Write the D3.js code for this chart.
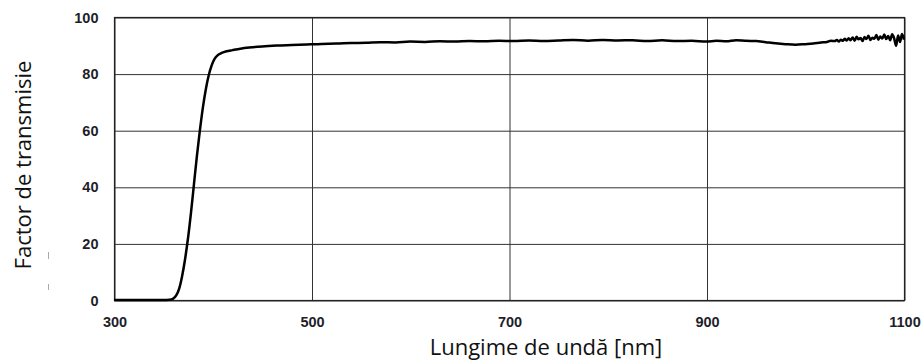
<!DOCTYPE html>
<html>
<head>
<meta charset="utf-8">
<script src="https://cdn.jsdelivr.net/npm/d3@7"></script>
<style>
    body { margin: 0; background: #fff; }
    svg { display: block; }
    .tick text { font-family: "Liberation Sans", Arial, sans-serif; font-weight: bold; font-size: 14.5px; fill: #1e1e2a; }
    .axisTitle { font-family: "Open Sans", sans-serif; font-size: 22px; fill: #111; }
</style>
</head>
<body>
<svg id="plot" width="921" height="362"></svg>
<script>
// wavelength (nm) and transmission factor (%)
var wavelength = [300, 350, 356, 360, 363, 366, 369, 372, 375, 378, 381, 384, 387, 390, 393, 396, 399, 402, 405, 409, 414, 420, 428, 437, 450, 465, 480, 495,
    510, 525, 540, 555, 570, 585, 600, 615, 630, 645, 660, 675, 690, 705, 720, 735, 750, 765, 780, 795, 810, 825, 840, 855, 870, 885, 900,
    910, 920, 930, 940, 950, 960, 970, 980, 990, 1000, 1008, 1016, 1022, 1026,
    1030, 1032, 1034, 1036, 1038, 1040, 1042, 1044, 1046, 1048, 1050, 1052, 1054, 1056, 1058, 1060, 1062, 1064, 1066, 1068,
    1070, 1072, 1074, 1076, 1078, 1080, 1082, 1084, 1086, 1088, 1090, 1092, 1094, 1096, 1098, 1100];
var transmission = [0, 0, 0.1, 0.5, 1.6, 4, 8.5, 14.5, 22, 31, 41, 51, 60, 68, 74.5, 79.5, 83, 85.3, 86.5, 87.3, 87.9, 88.3, 88.8, 89.2, 89.6, 89.9, 90.1, 90.3,
    90.5, 90.6, 90.8, 90.9, 91.1, 91.0, 91.3, 91.2, 91.4, 91.3, 91.5, 91.4, 91.6, 91.5, 91.7, 91.5, 91.7, 91.9, 91.6, 91.9, 91.7, 91.8, 91.5, 91.8, 91.5, 91.6, 91.3,
    91.6, 91.4, 91.8, 91.6, 91.5, 91.1, 90.7, 90.4, 90.2, 90.4, 90.6, 91.0, 91.2, 91.6,
    91.5, 91.9, 91.3, 92.0, 91.6, 92.3, 91.7, 92.5, 91.8, 92.8, 91.6, 93.0, 92.1, 92.6, 91.5, 92.9, 92.2, 93.4, 91.9, 92.7,
    92.3, 93.6, 92.0, 93.1, 92.4, 93.8, 92.2, 93.3, 91.8, 93.9, 92.5, 89.8, 93.5, 91.2, 94.0, 92.0];

var xTicks = [300, 500, 700, 900, 1100];
var yTicks = [0, 20, 40, 60, 80, 100];

const plot = d3.select("svg#plot");
const plotLeft = 114, plotRight = 904, plotTop = 17, plotBottom = 300;

let xScale = d3.scaleLinear()
                .domain([300, 1100])
                .range([plotLeft, plotRight]);

let yScale = d3.scaleLinear()
                .domain([0, 100])
                .range([plotBottom, plotTop]);

// gridlines + tick labels
let xAxis = d3.axisBottom(xScale)
                .tickValues(xTicks)
                .tickSize(-(plotBottom - plotTop))
                .tickPadding(16)
                .tickFormat(d3.format("d"));
plot.append("g")
    .attr("transform", "translate(0.5, " + (plotBottom + 0.5) + ")")
    .call(xAxis)
    .call(g => g.select(".domain").remove())
    .call(g => g.selectAll("line").attr("stroke", "#333"));

let yAxis = d3.axisLeft(yScale)
                .tickValues(yTicks)
                .tickSize(-(plotRight - plotLeft))
                .tickPadding(16);
plot.append("g")
    .attr("transform", "translate(" + (plotLeft + 0.5) + ", 0.5)")
    .call(yAxis)
    .call(g => g.select(".domain").remove())
    .call(g => g.selectAll("line").attr("stroke", "#333"));

// border
plot.append("rect")
    .attr("x", plotLeft + 0.5)
    .attr("y", plotTop + 0.5)
    .attr("width", plotRight - plotLeft)
    .attr("height", plotBottom - plotTop)
    .attr("fill", "none")
    .attr("stroke", "#222")
    .attr("stroke-width", 1.2);

// curve
let points = wavelength.map((w, i) => [w, transmission[i]]);
let line = d3.line()
                .x(d => xScale(d[0]))
                .y(d => yScale(d[1]))
                .curve(d3.curveMonotoneX);
plot.append("path")
    .datum(points)
    .attr("d", line)
    .attr("fill", "none")
    .attr("stroke", "#000")
    .attr("stroke-width", 2.5)
    .attr("stroke-linejoin", "round");

// axis titles
plot.append("text")
    .attr("class", "axisTitle")
    .attr("x", 546)
    .attr("y", 355)
    .style("text-anchor", "middle")
    .text("Lungime de undă [nm]");

plot.append("text")
    .attr("class", "axisTitle")
    .attr("transform", "translate(31, 165) rotate(-90)")
    .style("text-anchor", "middle")
    .text("Factor de transmisie");

// little grey marks left of the axis
plot.selectAll("line.mark")
    .data([[252, 259], [284, 290]])
    .enter().append("line")
    .attr("class", "mark")
    .attr("x1", 48.5).attr("x2", 48.5)
    .attr("y1", d => d[0]).attr("y2", d => d[1])
    .attr("stroke", "#aaa");
</script>
</body>
</html>
